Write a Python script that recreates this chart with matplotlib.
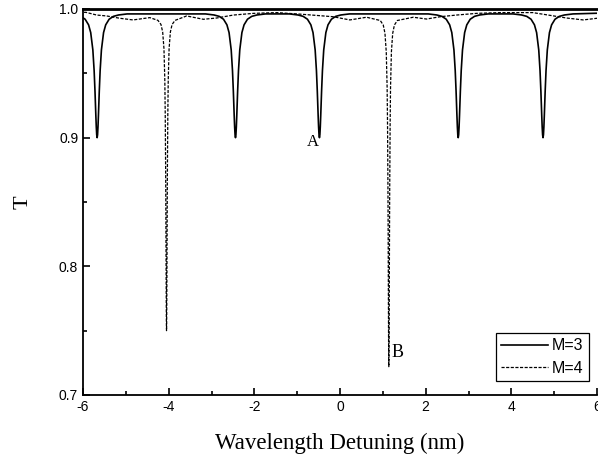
import numpy as np
import matplotlib
matplotlib.use("Agg")
from matplotlib import pyplot as plt
from matplotlib.ticker import MultipleLocator, FormatStrFormatter

# M=3 (solid): resonance dips
m3_centers = [-5.67, -2.44, -0.48, 2.76, 4.74]
m3_floor = [0.900, 0.900, 0.900, 0.900, 0.900]
m3_base = 0.997
# dip profile: offset from centre (nm) and fraction of full depth
m3_off = [0.0, 0.01, 0.02, 0.03, 0.05, 0.07, 0.10, 0.15, 0.20, 0.28, 0.38, 0.50, 0.70]
m3_frac = [1.0, 0.977, 0.913, 0.824, 0.628, 0.463, 0.297, 0.158, 0.096, 0.051, 0.028, 0.017, 0.0085]

# M=4 (dashed): wavy baseline plus two deep narrow dips
m4_base_x = [-6.3, -5.93, -5.68, -5.45, -5.14, -4.83, -4.44, -3.58, -3.19,
             -2.88, -2.49, -2.02, -1.48, -0.93, -0.16, 0.23, 0.62, 1.71,
             2.02, 2.34, 2.72, 3.19, 3.74, 4.50, 4.86, 5.29, 5.68, 6.0, 6.3]
m4_base_y = [0.9976, 0.9974, 0.9953, 0.9946, 0.9928, 0.9915, 0.9933, 0.9946, 0.9920,
             0.9930, 0.9953, 0.9966, 0.9972, 0.9960, 0.9940, 0.9915, 0.9936, 0.9936,
             0.9922, 0.9940, 0.9953, 0.9966, 0.9972, 0.9972, 0.9953, 0.9930, 0.9915, 0.9928, 0.9940]
m4_centers = [-4.05, 1.14]
m4_floor = [0.750, 0.722]
m4_top = [0.9936, 0.9938]
m4_off = [0.0, 0.003, 0.006, 0.01, 0.015, 0.02, 0.03, 0.04, 0.06, 0.09, 0.13, 0.20]
m4_frac = [1.0, 0.978, 0.917, 0.80, 0.64, 0.50, 0.31, 0.20, 0.10, 0.047, 0.023, 0.010]


def build(centers, floors, tops, off, frac):
    # place the read dip profile at each centre
    xs, ys = [], []
    side_o = [-o for o in off[::-1]] + off[1:]
    side_f = frac[::-1] + frac[1:]
    for c, f, t in zip(centers, floors, tops):
        for o, fr in zip(side_o, side_f):
            xs.append(c + o)
            ys.append(t - (t - f) * fr)
    return xs, ys


x3, y3 = build(m3_centers, m3_floor, [m3_base] * len(m3_centers), m3_off, m3_frac)
x3 = [-6.3] + x3 + [6.3]
y3 = [m3_base] + y3 + [m3_base]

dx, dy = build(m4_centers, m4_floor, m4_top, m4_off, m4_frac)
x4 = np.array(m4_base_x + dx)
y4 = np.array(m4_base_y + dy)
order = np.argsort(x4)
x4, y4 = x4[order], y4[order]

plt.rcParams['font.family'] = ['Liberation Sans', 'DejaVu Sans']
plt.rcParams['axes.unicode_minus'] = False
serif = ['Liberation Serif', 'DejaVu Serif']

fig = plt.figure(figsize=(5.98, 4.59), dpi=100)
ax = fig.add_axes([83 / 598, 64 / 459, 514 / 598, 386 / 459])

ax.plot(x3, y3, color='black', lw=1.2, label='M=3')
ax.plot(x4, y4, color='black', lw=0.9, dashes=(2.5, 1.2), label='M=4')

ax.set_xlim(-6, 6)
ax.set_ylim(0.7, 1.0)
ax.xaxis.set_major_locator(MultipleLocator(2))
ax.xaxis.set_minor_locator(MultipleLocator(1))
ax.yaxis.set_major_locator(MultipleLocator(0.1))
ax.yaxis.set_minor_locator(MultipleLocator(0.05))
ax.tick_params(which='both', direction='in', labelsize=10, width=1.2)
ax.tick_params(which='major', length=5)
ax.tick_params(which='minor', length=3)
ax.yaxis.set_major_formatter(FormatStrFormatter('%.1f'))

ax.spines['right'].set_visible(False)
ax.spines['top'].set_linewidth(2.0)
ax.spines['left'].set_linewidth(1.3)
ax.spines['bottom'].set_linewidth(1.3)

ax.set_xlabel('Wavelength Detuning (nm)', family=serif, fontsize=16.5, labelpad=14)
ax.set_ylabel('T', family=serif, fontsize=16, labelpad=19)

ax.text(-0.5, 0.897, 'A', family=serif, fontsize=12, ha='right', va='center')
ax.text(1.2, 0.733, 'B', family=serif, fontsize=13, ha='left', va='center')

leg = ax.legend(loc='lower right', bbox_to_anchor=(0.984, 0.036), borderaxespad=0,
                fancybox=False, framealpha=1, edgecolor='black', fontsize=11.5,
                handlelength=2.9, handletextpad=0.25, borderpad=0.35, labelspacing=0.45)
leg.get_frame().set_linewidth(0.9)

fig.savefig('out.png', dpi=100)
